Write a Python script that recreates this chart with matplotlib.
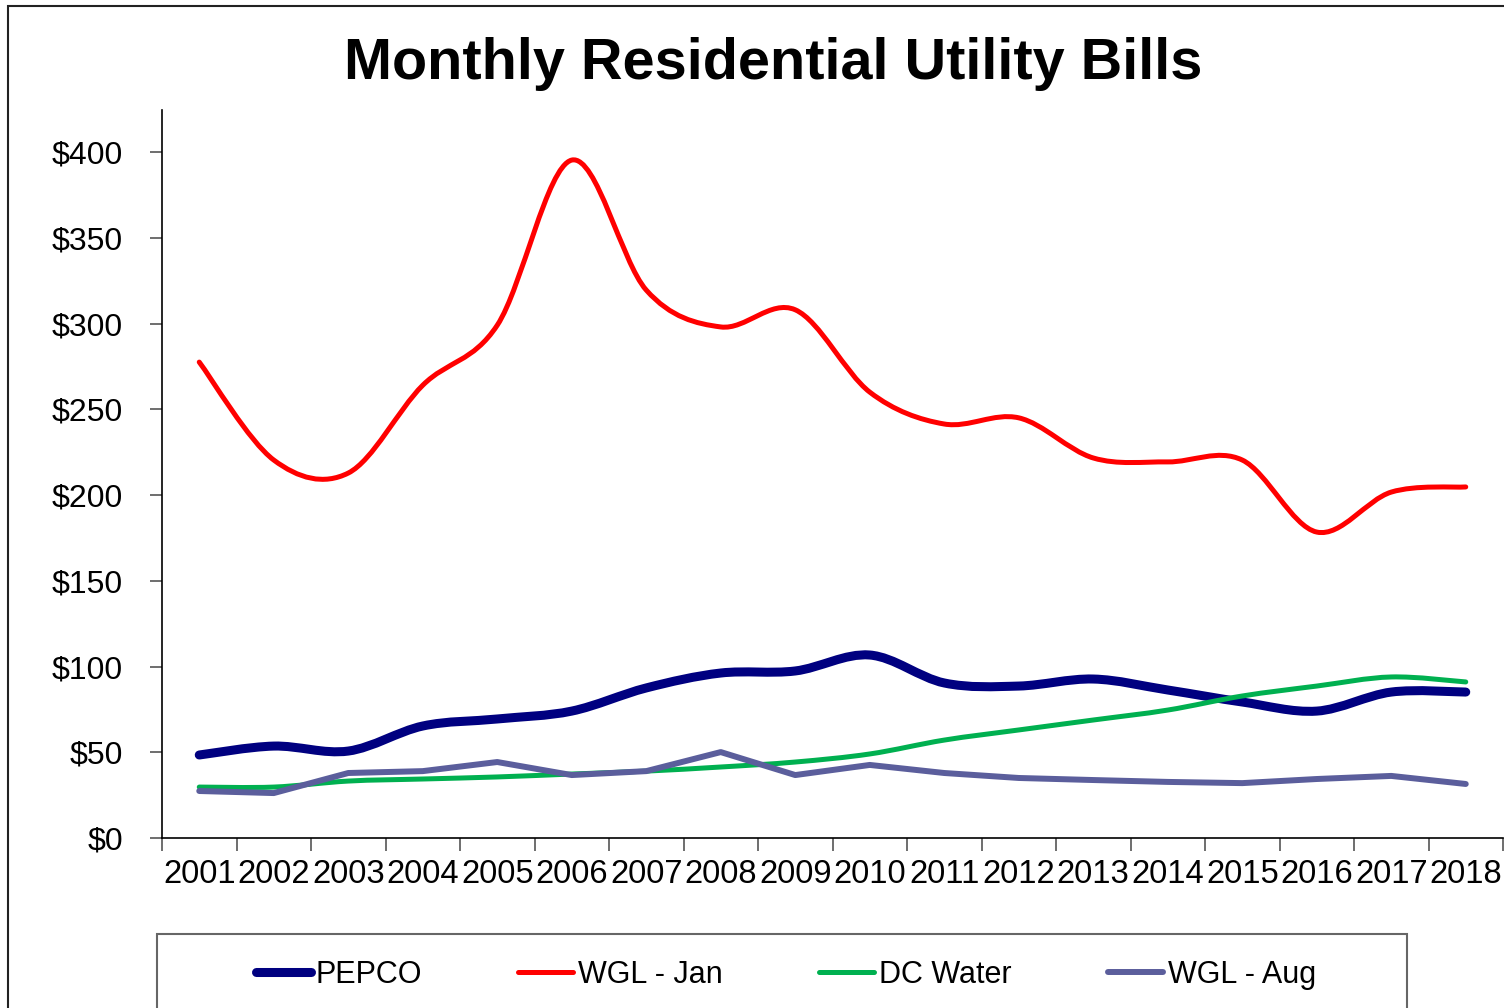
import matplotlib
matplotlib.use('Agg')
import matplotlib.pyplot as plt
from matplotlib.path import Path
from matplotlib.patches import PathPatch, Rectangle
from matplotlib.lines import Line2D
import numpy as np

plt.rcParams['font.family'] = ['Liberation Sans', 'DejaVu Sans']

years = ['2001', '2002', '2003', '2004', '2005', '2006', '2007', '2008', '2009',
         '2010', '2011', '2012', '2013', '2014', '2015', '2016', '2017', '2018']
pepco = [48.4, 53.6, 50.7, 65.3, 69.4, 74.0, 87.5, 96.2, 97.4,
         106.7, 90.4, 88.6, 92.7, 86.3, 79.3, 74.0, 85.1, 85.1]
wgl_jan = [277.5, 220.4, 212.8, 264.0, 299.0, 395.3, 319.5, 298.0, 308.0,
           260.0, 241.4, 245.0, 221.6, 219.3, 220.4, 178.4, 201.7, 204.7]
dc_water = [29.7, 29.7, 33.2, 34.4, 35.6, 37.3, 39.0, 41.4, 44.3,
            49.0, 57.1, 63.0, 68.8, 74.6, 82.8, 88.6, 93.9, 91.0]
wgl_aug = [27.4, 26.2, 37.9, 39.0, 44.3, 36.7, 39.0, 50.1, 36.7,
           42.6, 37.9, 35.0, 33.8, 32.7, 32.0, 34.4, 36.2, 31.5]
yticks = [0, 50, 100, 150, 200, 250, 300, 350, 400]


def smooth_path(x, y):
    # Excel-style smoothed line: cubic bezier segments through each point
    pts = np.column_stack([x, y]).astype(float)
    n = len(pts)
    verts = [pts[0]]
    codes = [Path.MOVETO]
    for i in range(n - 1):
        p0 = pts[i - 1] if i > 0 else pts[i]
        p1 = pts[i]
        p2 = pts[i + 1]
        p3 = pts[i + 2] if i + 2 < n else pts[i + 1]
        c1 = p1 + (p2 - p0) / 6.0
        c2 = p2 - (p3 - p1) / 6.0
        verts += [c1, c2, p2]
        codes += [Path.CURVE4] * 3
    return Path(verts, codes)


fig = plt.figure(figsize=(15.04, 10.08), dpi=100)
ax = fig.add_axes([162 / 1504, 1 - 838 / 1008, 1341 / 1504, 728 / 1008])

x = np.arange(len(years))
series = [
    (pepco, '#000080', 6.5, True, 'PEPCO'),
    (wgl_jan, '#FF0000', 3.6, True, 'WGL - Jan'),
    (dc_water, '#00B050', 3.6, True, 'DC Water'),
    (wgl_aug, '#5B5E9C', 4.3, False, 'WGL - Aug'),
]
handles = []
for vals, col, lw, smooth, name in series:
    if smooth:
        ax.add_patch(PathPatch(smooth_path(x, vals), fill=False, edgecolor=col,
                               lw=lw, capstyle='round', joinstyle='round', zorder=3))
    else:
        ax.plot(x, vals, color=col, lw=lw, solid_capstyle='round',
                solid_joinstyle='round', zorder=3)
    handles.append(Line2D([], [], color=col, lw=lw, solid_capstyle='round', label=name))

ax.set_xlim(-0.5, len(years) - 0.5)
ax.set_ylim(0, 424.5)
ax.set_xticks(x)
ax.set_xticklabels(years)
ax.set_xticks(np.arange(len(years) + 1) - 0.5, minor=True)
ax.tick_params(axis='x', which='major', length=0, pad=15, labelsize=23.6)
ax.tick_params(axis='x', which='minor', length=9, width=1.2, color='#555555')
ax.set_yticks(yticks)
ax.set_yticklabels(['$%d' % v for v in yticks])
ax.tick_params(axis='y', length=9, width=1.2, color='#555555', pad=19, labelsize=23)
for s in ['top', 'right']:
    ax.spines[s].set_visible(False)
for s in ['left', 'bottom']:
    ax.spines[s].set_linewidth(1.2)

fig.text(773 / 1504, 1 - 79 / 1008, 'Monthly Residential Utility Bills',
         ha='center', va='baseline', fontsize=41.5, fontweight='bold')

# outer chart frame
fig.patches.append(Rectangle((8 / 1504, -0.1), 1.2, 1 - 6 / 1008 + 0.1,
                             transform=fig.transFigure, fill=False,
                             edgecolor='#222222', lw=1.5))
# legend box
fig.patches.append(Rectangle((157 / 1504, -0.1), 1250 / 1504, 1 - 934 / 1008 + 0.1,
                             transform=fig.transFigure, fill=False,
                             edgecolor='#666666', lw=1.5))
fig.legend(handles=handles, loc='center', bbox_to_anchor=(786 / 1504, 1 - 975 / 1008),
           ncol=4, frameon=False, fontsize=22, handlelength=1.8,
           handletextpad=0.16, columnspacing=3.15)

plt.savefig('out.png', dpi=100)
plt.close()
